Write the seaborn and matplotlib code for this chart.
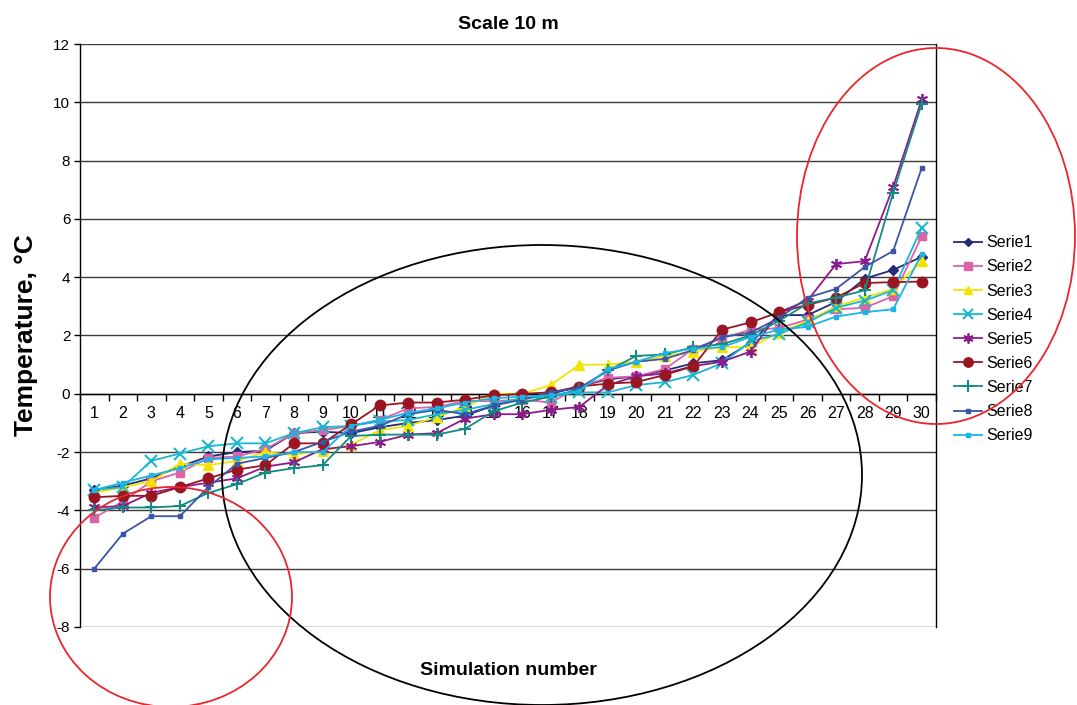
import matplotlib
matplotlib.use("Agg")
import matplotlib.pyplot as plt
from matplotlib.patches import Ellipse
from matplotlib.lines import Line2D
import numpy as np
import pandas as pd
import seaborn as sns

# Simulation numbers and temperature series
simulation = list(range(1, 31))

serie1 = [-3.3, -3.15, -2.9, -2.5, -2.15, -2.0, -1.95, -1.35, -1.3, -1.35,
          -1.15, -1.0, -0.9, -0.75, -0.4, -0.15, 0.0, 0.25, 0.5, 0.6,
          0.8, 1.05, 1.15, 1.75, 2.7, 2.7, 3.15, 3.95, 4.25, 4.7]
serie2 = [-4.25, -3.7, -3.0, -2.7, -2.2, -2.15, -1.9, -1.35, -1.25, -1.1,
          -0.9, -0.5, -0.45, -0.25, -0.25, -0.2, -0.3, 0.25, 0.55, 0.6,
          0.85, 1.55, 1.9, 2.2, 2.25, 2.55, 2.9, 2.95, 3.35, 5.4]
serie3 = [-3.4, -3.2, -3.0, -2.4, -2.45, -2.3, -2.0, -2.1, -1.95, -1.75,
          -1.25, -1.1, -0.8, -0.45, 0.0, 0.0, 0.3, 1.0, 1.0, 1.1,
          1.3, 1.45, 1.6, 1.6, 2.1, 2.5, 3.0, 3.3, 3.6, 4.55]
serie4 = [-3.3, -3.2, -2.3, -2.05, -1.8, -1.7, -1.7, -1.35, -1.15, -1.1,
          -0.95, -0.9, -0.7, -0.55, -0.35, -0.15, -0.1, 0.05, 0.05, 0.3,
          0.4, 0.65, 1.05, 1.8, 2.05, 2.45, 2.95, 3.2, 3.55, 5.7]
serie5 = [-3.9, -3.85, -3.4, -3.2, -3.05, -2.9, -2.5, -2.35, -1.9, -1.8,
          -1.65, -1.4, -1.35, -0.85, -0.7, -0.7, -0.55, -0.45, 0.3, 0.6,
          0.7, 0.95, 1.1, 1.45, 2.8, 3.2, 4.45, 4.55, 7.1, 10.1]
serie6 = [-3.55, -3.5, -3.5, -3.2, -2.9, -2.6, -2.45, -1.7, -1.7, -1.05,
          -0.4, -0.3, -0.3, -0.2, -0.05, 0.0, 0.05, 0.25, 0.35, 0.4,
          0.65, 0.95, 2.2, 2.45, 2.8, 3.05, 3.3, 3.8, 3.83, 3.85]
serie7 = [-4.0, -3.9, -3.9, -3.85, -3.4, -3.1, -2.7, -2.55, -2.45, -1.45,
          -1.4, -1.4, -1.4, -1.2, -0.6, -0.3, -0.1, 0.15, 0.8, 1.3,
          1.35, 1.6, 1.7, 2.0, 2.5, 3.1, 3.3, 3.55, 6.9, 9.95]
serie8 = [-6.0, -4.8, -4.2, -4.2, -3.2, -2.4, -2.2, -2.0, -1.65, -1.3,
          -1.1, -0.7, -0.55, -0.7, -0.4, -0.2, 0.05, 0.2, 0.8, 1.1,
          1.2, 1.5, 1.95, 2.1, 2.6, 3.3, 3.6, 4.35, 4.9, 7.75]
serie9 = [-3.3, -3.05, -2.8, -2.55, -2.25, -2.2, -2.15, -2.0, -2.0, -1.1,
          -0.9, -0.65, -0.5, -0.3, -0.15, -0.1, -0.05, 0.1, 0.85, 1.1,
          1.4, 1.55, 1.6, 1.95, 2.2, 2.3, 2.65, 2.8, 2.9, 4.8]

series_names = ["Serie1", "Serie2", "Serie3", "Serie4", "Serie5",
                "Serie6", "Serie7", "Serie8", "Serie9"]
series_values = [serie1, serie2, serie3, serie4, serie5,
                 serie6, serie7, serie8, serie9]

colors = ["#262A78", "#DC64A6", "#F2E400", "#1BB6CF", "#8C1C8C",
          "#9A1522", "#138A82", "#3A54A6", "#1CB4E6"]
markers = ["D", "s", "^", "x", (6, 2, 0), "o", "+", "s", "s"]
msizes = [5, 6, 7, 8, 8, 7.5, 9, 3, 3.5]
mews = [1, 1, 1, 1.5, 1.3, 1, 1.5, 1, 1]

W, H = 1077, 705
fig = plt.figure(figsize=(W / 100, H / 100), dpi=100)
ax = fig.add_axes([80 / W, 1 - 627 / H, (936 - 80) / W, (627 - 44) / H])

for name, vals, c, m, ms, mw in zip(series_names, series_values, colors,
                                     markers, msizes, mews):
    d = pd.DataFrame({"sim": simulation, "temp": vals})
    sns.lineplot(data=d, x="sim", y="temp", color=c, marker=m,
                 markersize=ms, markeredgecolor=c, markerfacecolor=c,
                 markeredgewidth=mw, linewidth=1.3, ax=ax, zorder=3,
                 label=name, legend=False)

font = "Liberation Sans"
plt.rcParams["font.family"] = [font, "DejaVu Sans"]

ax.set_xlim(0.5, 30.5)
ax.set_ylim(-8, 12)
ax.set_yticks(np.arange(-8, 13, 2))
ax.set_yticklabels([str(v) for v in range(-8, 13, 2)], fontsize=11, family=font)
ax.yaxis.grid(True, color="#3c3c3c", linewidth=1.0, zorder=0)
ax.xaxis.grid(False)
ax.set_axisbelow(True)

# Category axis crossing at zero: ticks between categories, labels under the line
ax.spines["bottom"].set_position(("data", 0))
ax.set_xticks(np.arange(0.5, 31, 1))
ax.set_xticklabels([])
ax.set_xticks(simulation, minor=True)
ax.set_xticklabels([str(s) for s in simulation], minor=True, fontsize=11.5, family=font)
ax.tick_params(axis="x", which="major", direction="out", length=5, width=1, color="black")
ax.tick_params(axis="x", which="minor", length=0, pad=9)
ax.tick_params(axis="y", direction="out", length=4, width=1, pad=3)
for s in ["left", "right", "top", "bottom"]:
    ax.spines[s].set_color("black")
    ax.spines[s].set_linewidth(1.0)
ax.spines["top"].set_visible(False)

ax.set_title("Scale 10 m", fontsize=14, fontweight="bold", family=font, pad=11)
ax.set_ylabel("Temperature, °C", fontsize=19, fontweight="bold", family=font, labelpad=11)
ax.set_xlabel("Simulation number", fontsize=14, fontweight="bold", family=font)
ax.xaxis.set_label_coords(0.5, -0.06)

# Legend
handles = [Line2D([0], [0], color=c, marker=m, markersize=ms * 0.9,
                  markeredgecolor=c, markerfacecolor=c, markeredgewidth=mw,
                  linewidth=1.3)
           for c, m, ms, mw in zip(colors, markers, msizes, mews)]
fig.legend(handles, series_names, loc="upper left",
           bbox_to_anchor=(948 / W, 1 - 229 / H), frameon=False,
           prop={"family": font, "size": 11.5}, handlelength=1.75,
           handletextpad=0.25, labelspacing=0.57, borderaxespad=0)

# Highlight ellipses
def ring(cx, cy, rx, ry, color):
    fig.add_artist(Ellipse((cx / W, 1 - cy / H), 2 * rx / W, 2 * ry / H,
                           transform=fig.transFigure, fill=False,
                           edgecolor=color, linewidth=1.3, zorder=10))

ring(542, 475, 320, 230, "black")
ring(171, 597, 121, 110, "#E8262B")
ring(936, 236, 139, 188, "#E8262B")

fig.savefig("out.png", dpi=100)
